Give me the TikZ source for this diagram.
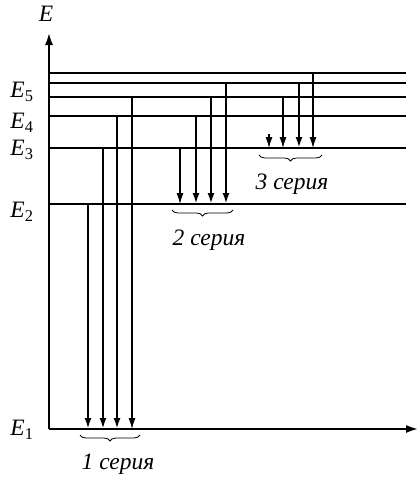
\documentclass[tikz,border=0pt]{standalone}
\usepackage{fontspec}
\setmainfont{Liberation Serif}
\usetikzlibrary{arrows.meta,decorations.pathreplacing}
\tikzset{
  level/.style={line width=2.2pt},
  axisline/.style={line width=2.6pt},
  trthick/.style={line width=2.2pt,-{Latex[length=11pt,width=7pt]}},
  trthin/.style={line width=1.1pt,-{Latex[length=11pt,width=7pt]}},
  br/.style={decorate,decoration={brace,mirror,amplitude=6pt},line width=0.8pt},
  lbl/.style={font=\fontsize{23.5}{28}\selectfont\itshape,inner sep=0pt},
}
\newcommand{\En}[1]{\textit{E}\textsubscript{\upshape #1}}
\begin{document}
\begin{tikzpicture}[x=1pt,y=-1pt]
\useasboundingbox (0,0) rectangle (419,477);
% level coordinates
\coordinate (L1) at (49,429);
\coordinate (L2) at (49,204);
\coordinate (L3) at (49,148);
\coordinate (L4) at (49,116);
\coordinate (L5) at (49,97);
\coordinate (L6) at (49,83);
\coordinate (L7) at (49,73);
% axes
\coordinate (xend) at (419,429);
\coordinate (yend) at (49,32);
\draw[axisline,-{Latex[length=13pt,width=8pt]}] (L1) -- (yend);
\draw[axisline,-{Latex[length=13pt,width=8pt]}] (L1) -- (xend);
\node[lbl] (Elab) at (46,14) {E};
% levels
\foreach \l in {L2,L3,L4,L5,L6,L7}{
  \draw[level] (\l) -- ++(357,0);
}
% level labels
\node[lbl,anchor=center] (e1) at (22,430) {\En{1}};
\node[lbl,anchor=center] (e2) at (22,212) {\En{2}};
\node[lbl,anchor=center] (e3) at (22,150) {\En{3}};
\node[lbl,anchor=center] (e4) at (22,123) {\En{4}};
\node[lbl,anchor=center] (e5) at (22,92) {\En{5}};
% series 1
\draw[trthick] (88,204) -- (88,429);
\draw[trthick] (103,148) -- (103,429);
\draw[trthick] (117,116) -- (117,429);
\draw[trthin] (132,97) -- (132,429);
% series 2
\draw[trthin] (180,148) -- (180,204);
\draw[trthick] (196,116) -- (196,204);
\draw[trthick] (211,97) -- (211,204);
\draw[trthick] (226,83) -- (226,204);
% series 3
\draw[trthin] (269,134) -- (269,148);
\draw[trthin] (283,97) -- (283,148);
\draw[trthick] (299,83) -- (299,148);
\draw[trthin] (313,73) -- (313,148);
% braces and labels
\draw[br] (80,435) -- (140,435);
\node[lbl] (s1) at (118,464) {1 серия};
\draw[br] (172,210) -- (233,210);
\node[lbl] (s2) at (209,240) {2 серия};
\draw[br] (259,155) -- (322,155);
\node[lbl] (s3) at (292,184) {3 серия};
\end{tikzpicture}
\end{document}
